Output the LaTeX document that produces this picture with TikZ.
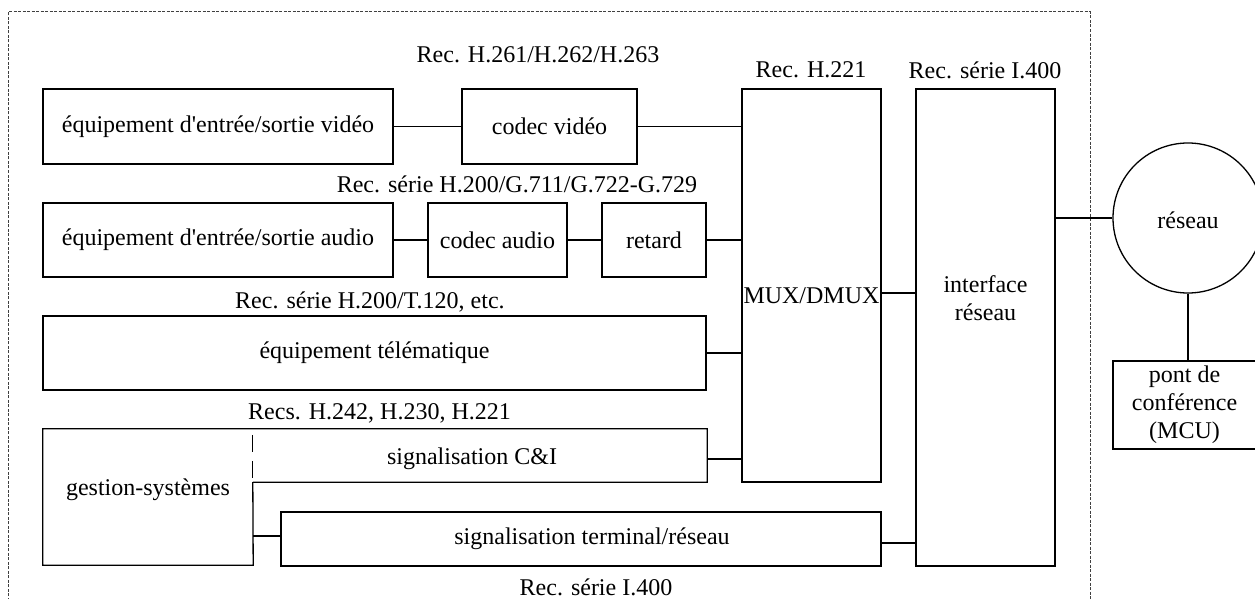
\documentclass[tikz,border=0pt]{standalone}
\usepackage{fontspec}
\setmainfont{Liberation Serif}
\usetikzlibrary{calc}
\begin{document}
\begin{tikzpicture}[x=1pt,y=-1pt,
  every node/.style={font=\fontsize{24}{28}\selectfont, inner sep=0pt},
  box/.style={draw, line width=1.3pt, rectangle},
  nobox/.style={rectangle},
  conn/.style={line width=1.3pt},
  frame/.style={line width=1pt, draw=black!75, dash pattern=on 3pt off 1.5pt}]
\useasboundingbox (0,0) rectangle (1255,599);
% outer dashed frame
\draw[frame] (8,605) -- (8,12) -- (1090,12) -- (1090,605);
% video row
\node[box, minimum width=350pt, minimum height=75pt] (vio) at (218,126.5) {équipement d\textquotesingle entrée/sortie vidéo};
\node[box, minimum width=175pt, minimum height=75pt] (cvid) at (549.5,126.5) {codec vidéo};
% audio row
\node[box, minimum width=350pt, minimum height=74pt] (aio) at (218,240) {équipement d\textquotesingle entrée/sortie audio};
\node[box, minimum width=139pt, minimum height=74pt] (caud) at (497.5,240) {codec audio};
\node[box, minimum width=104pt, minimum height=74pt] (ret) at (654,240) {retard};
% telematics
\node[box, minimum width=663pt, minimum height=74pt] (tele) at (374.5,353) {équipement télématique};
% system control and signalling
\node[nobox, minimum width=210pt, minimum height=136pt] (gest) at (148,497) {};
\node (gestlbl) at (148,490) {gestion-systèmes};
\node[nobox, minimum width=454pt, minimum height=53pt] (ci) at (480,455.5) {};
\node (cilbl) at (472,459) {signalisation C\&I};
\draw[conn] (ci.south west) -- (gest.south east) -- (gest.south west) -- (gest.north west)
  -- (ci.north east) -- (ci.south east) -- (ci.south west);
\draw[conn, dash pattern=on 17pt off 9pt, dash phase=20pt] (ci.north west) -- (ci.south west);
\node[box, minimum width=600pt, minimum height=54pt] (term) at (581,539) {\hspace{22pt}signalisation terminal/réseau};
% MUX and network interface
\node[box, minimum width=139pt, minimum height=393pt] (mux) at (811.5,285.5) {};
\node (muxlbl) at (811.5,296) {MUX/DMUX};
\node[box, minimum width=139pt, minimum height=477pt] (intf) at (985.5,327.5) {};
\node[align=center] (intflbl) at (985.5,298) {interface\\réseau};
% network and MCU
\node[draw, circle, line width=1.3pt, minimum size=150pt] (net) at (1188,218) {};
\node (netlbl) at (1188,220) {réseau};
\node[box, minimum width=143pt, minimum height=88pt, align=center] (pont) at (1184.5,405) {pont de\\conférence\\(MCU)};
% recommendation labels
\node (l1) at (538,55) {Rec. H.261/H.262/H.263};
\node (l2) at (517,184) {Rec. série H.200/G.711/G.722-G.729};
\node (l3) at (811,70) {Rec. H.221};
\node (l4) at (985,70) {Rec. série I.400};
\node[anchor=west] (l5) at (235,302) {Rec. série H.200/T.120, etc.};
\node[anchor=west] (l6) at (248,413) {Recs. H.242, H.230, H.221};
\node (l7) at (596,587) {Rec. série I.400};
% connectors
\draw[conn] (vio.east) -- (cvid.west);
\draw[conn] (cvid.east) -- (cvid.east -| mux.west);
\draw[conn] (aio.east) -- (caud.west);
\draw[conn] (caud.east) -- (ret.west);
\draw[conn] (ret.east) -- (ret.east -| mux.west);
\draw[conn] (tele.east) -- (tele.east -| mux.west);
\coordinate (cic) at ($(ci.east)+(0,3.5)$);
\draw[conn] (cic) -- (cic -| mux.west);
\coordinate (muxc) at ($(mux.east)+(0,7.5)$);
\draw[conn] (muxc) -- (muxc -| intf.west);
\draw[conn] (intf.east |- net.west) -- (net.west);
\draw[conn] (net.south) -- (net.south |- pont.north);
\coordinate (gtc) at ($(term.west)+(0,-3)$);
\draw[conn] (gtc) -- (gtc -| gest.east);
\coordinate (tic) at ($(term.east)+(0,4)$);
\draw[conn] (tic) -- (tic -| intf.west);
\end{tikzpicture}
\end{document}
